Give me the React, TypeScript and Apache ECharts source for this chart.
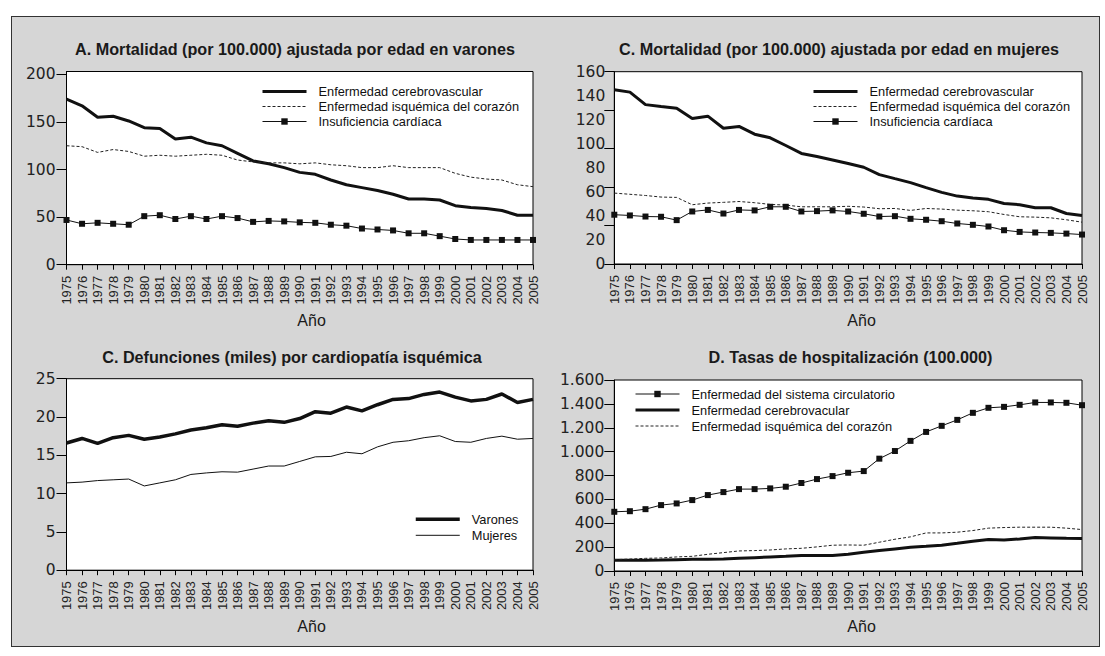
import React, { useEffect, useRef } from "react";
import * as echarts from "echarts";

// ---------- data ----------
const years = [
  "1975", "1976", "1977", "1978", "1979", "1980", "1981", "1982", "1983", "1984",
  "1985", "1986", "1987", "1988", "1989", "1990", "1991", "1992", "1993", "1994",
  "1995", "1996", "1997", "1998", "1999", "2000", "2001", "2002", "2003", "2004", "2005",
];

// A. Mortalidad ajustada por edad en varones
const aCerebro = [174, 167, 155, 156, 151, 144, 143, 132, 134, 128, 125, 117, 109, 106, 102, 97, 95, 89, 84, 81, 78, 74, 69, 69, 68, 62, 60, 59, 57, 52, 52];
const aIsquemica = [125, 124, 118, 121, 119, 114, 115, 114, 115, 116, 115, 110, 108, 107, 107, 106, 107, 105, 104, 102, 102, 104, 102, 102, 102, 96, 92, 90, 89, 84, 82];
const aInsuficiencia = [47, 43, 44, 43, 42, 51, 52, 48, 51, 48, 51, 49, 45, 46, 45.5, 44.5, 44, 42, 41, 38, 37, 36, 33, 33, 30, 27, 26, 26, 26, 26, 26];

// C. Mortalidad ajustada por edad en mujeres
const mCerebro = [145, 143, 132.6, 131, 129.5, 121, 123, 113, 114.5, 108, 105, 98.6, 92, 89.4, 86.6, 83.6, 80.5, 74.4, 71, 67.7, 63.5, 59.6, 56.5, 55, 53.8, 50.4, 49.3, 46.8, 46.8, 42, 40.4];
const mIsquemica = [59, 58, 57, 55.7, 55.4, 49.3, 50.7, 51.3, 52, 51, 49.6, 49, 47.6, 47.6, 47.6, 48, 47.4, 46, 46.2, 44.6, 46.2, 45.7, 44.8, 44.3, 43.5, 41.2, 39.3, 39, 38.4, 36.8, 34.8];
const mInsuficiencia = [41, 40.4, 39.5, 39.3, 36.5, 43.7, 45, 42, 45, 44.6, 47.6, 47.6, 43.7, 44, 44.6, 43.7, 41.8, 39.5, 39.8, 37.6, 36.8, 35.6, 33.7, 32.6, 31.2, 28.1, 26.7, 26.2, 25.9, 25.3, 24.5];

// C. Defunciones (miles) por cardiopatía isquémica
const dVarones = [16.6, 17.2, 16.55, 17.3, 17.6, 17.1, 17.4, 17.8, 18.3, 18.6, 19.0, 18.8, 19.2, 19.5, 19.3, 19.8, 20.7, 20.5, 21.3, 20.8, 21.6, 22.3, 22.4, 22.95, 23.25, 22.6, 22.1, 22.3, 23.0, 21.9, 22.3];
const dMujeres = [11.4, 11.5, 11.7, 11.8, 11.9, 11.0, 11.4, 11.8, 12.5, 12.7, 12.85, 12.8, 13.2, 13.6, 13.6, 14.2, 14.8, 14.85, 15.4, 15.2, 16.1, 16.7, 16.9, 17.3, 17.55, 16.8, 16.7, 17.2, 17.5, 17.1, 17.2];

// D. Tasas de hospitalización
const hCirculatorio = [496, 501, 518, 552, 566, 594, 636, 661, 686, 686, 692, 706, 737, 770, 795, 823, 837, 941, 1005, 1090, 1165, 1216, 1266, 1325, 1367, 1375, 1392, 1412, 1412, 1409, 1389];
const hCerebro = [90, 90, 90, 92, 95, 98, 98, 100, 106, 112, 118, 123, 129, 129, 129, 140, 157, 171, 185, 199, 207, 216, 232, 249, 263, 260, 269, 280, 277, 274, 272];
const hIsquemica = [95, 100, 106, 109, 118, 123, 140, 154, 168, 171, 176, 185, 190, 202, 216, 218, 216, 241, 266, 286, 319, 319, 325, 339, 359, 364, 367, 367, 367, 359, 347];

// tick values
const ticksA = [0, 50, 100, 150, 200];
const labelsM = [0, 20, 40, 60, 80, 100, 120, 140, 160];
const ticksM = [0, 32, 64, 96, 128, 160];
const ticksD = [0, 5, 10, 15, 20, 25];
const ticksH = [0, 200, 400, 600, 800, 1000, 1200, 1400, 1600];

// texts
const titles = [
  "A. Mortalidad (por 100.000) ajustada por edad en varones",
  "C. Mortalidad (por 100.000) ajustada por edad en mujeres",
  "C. Defunciones (miles) por cardiopatía isquémica",
  "D. Tasas de hospitalización (100.000)",
];
const xName = "Año";
const nCerebro = "Enfermedad cerebrovascular";
const nIsquemica = "Enfermedad isquémica del corazón";
const nInsuf = "Insuficiencia cardíaca";
const nVarones = "Varones";
const nMujeres = "Mujeres";
const nCirc = "Enfermedad del sistema circulatorio";
const nCerebroD = "Enfermedad cerebrovacular";

// ---------- styling helpers ----------
const INK = "#111";
const grids = [
  { left: 66.5, top: 71.5, width: 466.5, height: 193.2 },
  { left: 614.3, top: 71.7, width: 467.7, height: 192.3 },
  { left: 66.5, top: 378.7, width: 466.5, height: 191.5 },
  { left: 614.3, top: 380, width: 467.7, height: 191 },
];

const xAxis = (gridIndex: number) => ({
  type: "category",
  gridIndex,
  data: years,
  boundaryGap: false,
  axisLine: { show: true, lineStyle: { color: "#000", width: 1 } },
  axisTick: { show: true, length: 5, interval: 0, lineStyle: { color: "#000" } },
  axisLabel: {
    interval: 0,
    rotate: 90,
    margin: 11,
    fontFamily: "Liberation Sans",
    fontSize: 13,
    color: "#222",
  },
  splitLine: { show: false },
});

const yAxis = (
  gridIndex: number,
  max: number,
  labels: number[],
  ticks: number[],
  margin: number,
  fmt?: (v: number) => string
) => ({
  type: "value",
  gridIndex,
  min: 0,
  max,
  axisLine: { show: true, lineStyle: { color: "#000", width: 1 } },
  axisTick: { show: true, length: 10, customValues: ticks, lineStyle: { color: "#000" } },
  axisLabel: {
    customValues: labels,
    margin,
    fontFamily: "DejaVu Sans",
    fontSize: 15.5,
    color: "#222",
    formatter: fmt,
  },
  splitLine: { show: false },
});

const thousands = (v: number) => String(v).replace(/\B(?=(\d{3})+(?!\d))/g, ".");

const thick = (name: string, data: number[], i: number, w = 3) => ({
  type: "line",
  name,
  data,
  xAxisIndex: i,
  yAxisIndex: i,
  symbol: "none",
  silent: true,
  lineStyle: { color: INK, width: w },
  itemStyle: { color: INK },
});
const dashed = (name: string, data: number[], i: number) => ({
  type: "line",
  name,
  data,
  xAxisIndex: i,
  yAxisIndex: i,
  symbol: "none",
  silent: true,
  lineStyle: { color: "#222", width: 1, type: [3, 2] },
  itemStyle: { color: "#222" },
});
const thin = (name: string, data: number[], i: number) => ({
  type: "line",
  name,
  data,
  xAxisIndex: i,
  yAxisIndex: i,
  symbol: "none",
  silent: true,
  lineStyle: { color: INK, width: 1 },
  itemStyle: { color: INK },
});
const marked = (name: string, data: number[], i: number) => ({
  type: "line",
  name,
  data,
  xAxisIndex: i,
  yAxisIndex: i,
  symbol: "rect",
  symbolSize: 6,
  showSymbol: true,
  silent: true,
  lineStyle: { color: INK, width: 1 },
  itemStyle: { color: INK },
});

const legItem = (name: string, width: number, symbol: boolean) => ({
  name,
  itemStyle: symbol ? {} : { opacity: 0 },
  lineStyle: { width },
});

const legend = (left: number, top: number, rowH: number, data: any[]) => ({
  left,
  top,
  orient: "vertical",
  padding: 0,
  itemGap: 0,
  itemWidth: 44,
  itemHeight: 8,
  selectedMode: false,
  textStyle: {
    fontFamily: "Liberation Sans",
    fontSize: 12.8,
    color: INK,
    lineHeight: rowH,
    padding: [0, 0, 0, 7],
  },
  data,
});

const txt = (text: string, x: number, y: number, bold: boolean) => ({
  type: "text",
  x,
  y,
  silent: true,
  style: {
    text,
    fill: "#1a1a1a",
    fontFamily: "Liberation Sans",
    fontSize: bold ? 16.2 : 16,
    fontWeight: bold ? "bold" : "normal",
    align: "center",
    verticalAlign: "middle",
  },
});

export default function App() {
  const ref = useRef<HTMLDivElement>(null);

  useEffect(() => {
    if (!ref.current) return;
    const chart = echarts.init(ref.current, null, { renderer: "svg" });
    const option: any = {
      animation: false,
      grid: grids.map((g) => ({
        ...g,
        show: true,
        backgroundColor: "#fff",
        borderColor: "#000",
        borderWidth: 1,
        containLabel: false,
      })),
      xAxis: [xAxis(0), xAxis(1), xAxis(2), xAxis(3)],
      yAxis: [
        yAxis(0, 203, ticksA, ticksA, 11),
        yAxis(1, 160, labelsM, ticksM, 9),
        yAxis(2, 25, ticksD, ticksD, 11),
        yAxis(3, 1600, ticksH, ticksH, 10, thousands),
      ],
      legend: [
        legend(261, 84, 15, [
          legItem(nCerebro, 3, false),
          legItem(nIsquemica, 1, false),
          legItem(nInsuf, 1, true),
        ]),
        legend(812, 84, 15, [
          legItem(nCerebro, 3, false),
          legItem(nIsquemica, 1, false),
          legItem(nInsuf, 1, true),
        ]),
        legend(414, 511.3, 16, [legItem(nVarones, 3.5, false), legItem(nMujeres, 1, false)]),
        legend(634, 386, 16, [
          legItem(nCirc, 1, true),
          legItem(nCerebroD, 3, false),
          legItem(nIsquemica, 1, false),
        ]),
      ],
      graphic: [
        txt(titles[0], 295, 48.8, true),
        txt(titles[1], 839, 48.8, true),
        txt(titles[2], 292, 357, true),
        txt(titles[3], 850.5, 357, true),
        txt(xName, 311.6, 320, false),
        txt(xName, 861.6, 320, false),
        txt(xName, 311.6, 626.7, false),
        txt(xName, 861.6, 626.7, false),
      ],
      series: [
        thick(nCerebro, aCerebro, 0),
        dashed(nIsquemica, aIsquemica, 0),
        marked(nInsuf, aInsuficiencia, 0),
        thick(nCerebro, mCerebro, 1),
        dashed(nIsquemica, mIsquemica, 1),
        marked(nInsuf, mInsuficiencia, 1),
        thick(nVarones, dVarones, 2, 3.5),
        thin(nMujeres, dMujeres, 2),
        marked(nCirc, hCirculatorio, 3),
        thick(nCerebroD, hCerebro, 3),
        dashed(nIsquemica, hIsquemica, 3),
      ],
    };
    chart.setOption(option);
    return () => chart.dispose();
  }, []);

  return (
    <div style={{ position: "fixed", left: 0, top: 0, width: 1105, height: 656, background: "#fff" }}>
      <div
        style={{
          position: "absolute",
          left: 11,
          top: 16,
          width: 1089,
          height: 631,
          background: "#d6d6d6",
          border: "1px solid #333",
          boxSizing: "border-box",
        }}
      />
      <div ref={ref} style={{ position: "absolute", left: 0, top: 0, width: 1105, height: 656 }} />
    </div>
  );
}
